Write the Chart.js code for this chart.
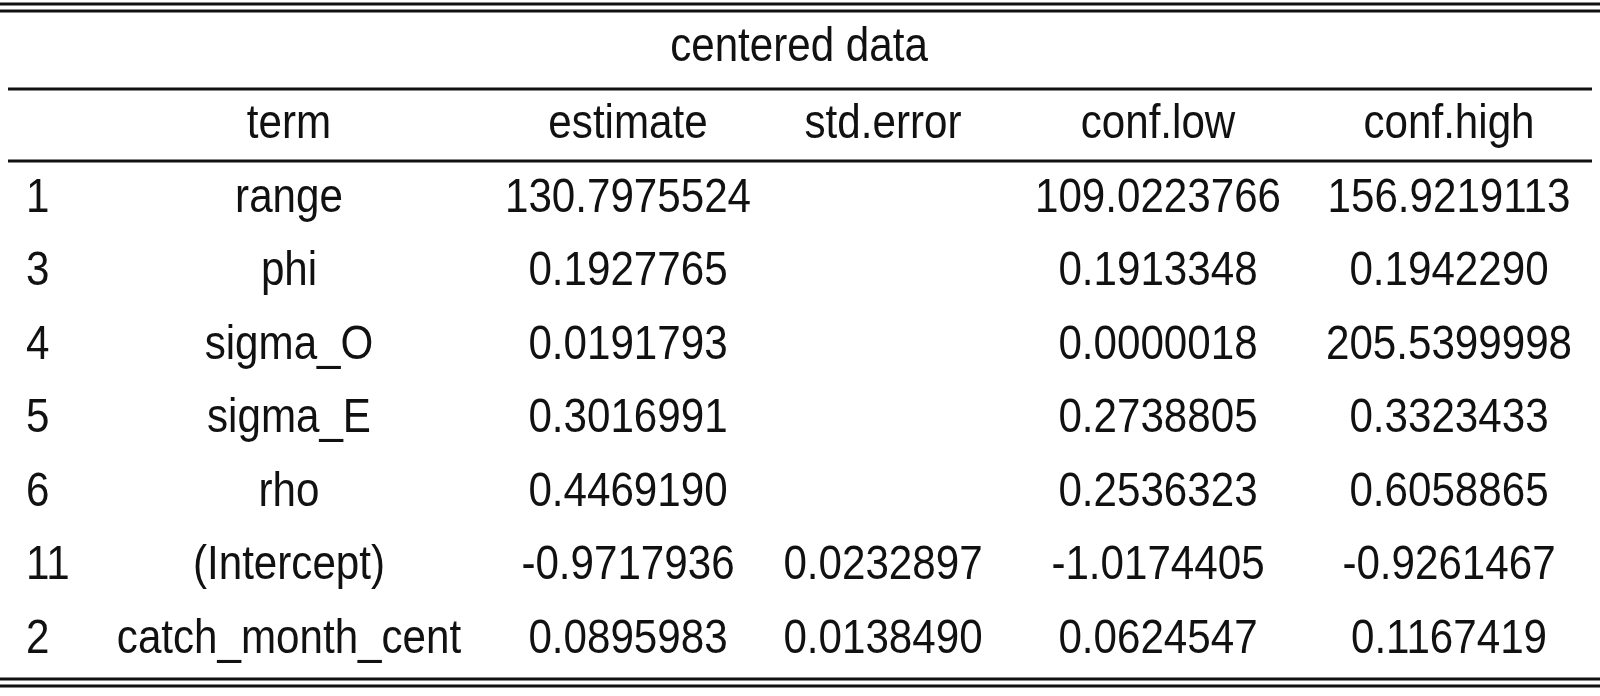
<!DOCTYPE html>
<html>
<head>
<meta charset="utf-8">
<script src="https://cdn.jsdelivr.net/npm/chart.js@4"></script>
<style>
  body { margin: 0; background: #fff; }
  #wrap { width: 1600px; height: 696px; }
</style>
</head>
<body>
<div id="wrap"><canvas id="tbl"></canvas></div>
<script>
const title = 'centered data';
const headers = ['', 'term', 'estimate', 'std.error', 'conf.low', 'conf.high'];
const rowIds = ['1', '3', '4', '5', '6', '11', '2'];
const terms = ['range', 'phi', 'sigma_O', 'sigma_E', 'rho', '(Intercept)', 'catch_month_cent'];
const estimate = ['130.7975524', '0.1927765', '0.0191793', '0.3016991', '0.4469190', '-0.9717936', '0.0895983'];
const stdError = ['', '', '', '', '', '0.0232897', '0.0138490'];
const confLow = ['109.0223766', '0.1913348', '0.0000018', '0.2738805', '0.2536323', '-1.0174405', '0.0624547'];
const confHigh = ['156.9219113', '0.1942290', '205.5399998', '0.3323433', '0.6058865', '-0.9261467', '0.1167419'];

// column layout (style only)
const colX = [26, 289, 628, 883, 1158, 1449];
const colAlign = ['left', 'center', 'center', 'center', 'center', 'center'];
const rowLabels = ['header'].concat(rowIds.map((r, i) => 'r' + i));

const tablePlugin = {
  id: 'tablePlugin',
  afterDraw(chart) {
    const ctx = chart.ctx;
    const y = chart.scales.y;
    const sx = 0.86;
    ctx.save();
    ctx.fillStyle = '#111';
    ctx.strokeStyle = '#111';
    const line = (yy, w, x0, x1) => {
      ctx.lineWidth = w;
      ctx.beginPath(); ctx.moveTo(x0, yy); ctx.lineTo(x1, yy); ctx.stroke();
    };
    line(4, 3, 0, 1600);
    line(11, 3, 0, 1600);
    line(89, 3, 8, 1592);
    line(161, 3, 8, 1592);
    line(679, 3, 0, 1600);
    line(686, 3, 0, 1600);

    ctx.font = '49px "Liberation Sans", Arial, sans-serif';
    ctx.textBaseline = 'middle';
    const txt = (s, x, yy, align) => {
      ctx.save();
      ctx.translate(x, yy);
      ctx.scale(sx, 1);
      ctx.textAlign = align;
      ctx.fillText(s, 0, 0);
      ctx.restore();
    };
    txt(title, 799, 47, 'center');
    headers.forEach((h, c) => txt(h, colX[c], y.getPixelForValue(0), colAlign[c]));
    const cols = [rowIds, terms, estimate, stdError, confLow, confHigh];
    rowIds.forEach((r, i) => {
      const yy = y.getPixelForValue(i + 1);
      cols.forEach((col, c) => txt(col[i], colX[c], yy, colAlign[c]));
    });
    ctx.restore();
  }
};

new Chart(document.getElementById('tbl').getContext('2d'), {
  type: 'bar',
  data: { labels: rowLabels, datasets: [{ data: rowLabels.map(() => null) }] },
  options: {
    responsive: true,
    maintainAspectRatio: false,
    animation: false,
    indexAxis: 'y',
    layout: { padding: { top: 88, bottom: 20, left: 0, right: 0 } },
    plugins: { legend: { display: false }, tooltip: { enabled: false } },
    scales: {
      y: { type: 'category', display: false, offset: true },
      x: { display: false, min: 0, max: 1 }
    }
  },
  plugins: [tablePlugin]
});
</script>
</body>
</html>
